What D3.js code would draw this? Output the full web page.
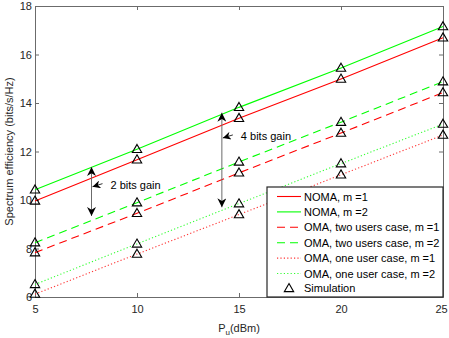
<!DOCTYPE html>
<html>
<head>
<meta charset="utf-8">
<script src="https://cdn.jsdelivr.net/npm/d3@7"></script>
<style>
    html, body { margin: 0; padding: 0; background: #fff; }
    svg { display: block; font-family: "Liberation Sans", Arial, sans-serif; }
    .tick-label { font-size: 11px; fill: #262626; }
    .axis-title { font-size: 11px; fill: #262626; }
    .legend-text { font-size: 11px; fill: #000; }
    .gain-text { font-size: 11px; fill: #000; }
</style>
</head>
<body>
<div id="chart"></div>
<script>
const powerLevels = [5, 10, 15, 20, 25];
const xTicks = [5, 10, 15, 20, 25];
const yTicks = [6, 8, 10, 12, 14, 16, 18];

const nomaM1 = [9.96, 11.66, 13.37, 14.99, 16.69];
const nomaM2 = [10.42, 12.09, 13.82, 15.44, 17.15];
const omaTwoM1 = [7.83, 9.45, 11.12, 12.76, 14.43];
const omaTwoM2 = [8.24, 9.89, 11.57, 13.21, 14.88];
const omaOneM1 = [6.12, 7.77, 9.40, 11.04, 12.68];
const omaOneM2 = [6.52, 8.19, 9.85, 11.50, 13.13];

const seriesLabels = [
    'NOMA, m =1',
    'NOMA, m =2',
    'OMA, two users case, m =1',
    'OMA, two users case, m =2',
    'OMA, one user case, m =1',
    'OMA, one user case, m =2'
];
const seriesValues = [nomaM1, nomaM2, omaTwoM1, omaTwoM2, omaOneM1, omaOneM2];
const seriesColors = ['#ff0000', '#00ff00', '#ff0000', '#00ff00', '#ff3333', '#33ff33'];
const seriesDashes = [null, null, '8,5', '8,5', '1.2,2.2', '1.2,2.2'];

// double arrows between two curves, with a pointer label
const gainArrows = [
    { x: 7.77, top: 11.36, bottom: 9.34, label: '2 bits gain', labelY: 10.55 },
    { x: 14.16, top: 13.6, bottom: 9.70, label: '4 bits gain', labelY: 12.56 }
];

const width = 449;
const height = 338;
const margin = { top: 6, right: 6, bottom: 41, left: 35 };

const svg = d3.select('#chart').append('svg')
    .attr('width', width)
    .attr('height', height);

const xScale = d3.scaleLinear()
    .domain([5, 25])
    .range([margin.left, width - margin.right]);

const yScale = d3.scaleLinear()
    .domain([6, 18])
    .range([height - margin.bottom, margin.top]);

const axisColor = '#6b6b6b';
const plotLeft = xScale.range()[0];
const plotRight = xScale.range()[1];
const plotTop = yScale.range()[1];
const plotBottom = yScale.range()[0];

// axes box with inner ticks on all four sides
svg.append('g')
    .attr('transform', `translate(0,${plotBottom})`)
    .call(d3.axisBottom(xScale).tickValues(xTicks).tickSizeInner(-4).tickSizeOuter(0).tickPadding(8))
    .call((group) => group.selectAll('text').attr('class', 'tick-label').attr('fill', null))
    .call((group) => group.selectAll('text').filter((value) => value === 25).attr('dx', -2));

svg.append('g')
    .attr('transform', `translate(0,${plotTop})`)
    .call(d3.axisTop(xScale).tickValues(xTicks).tickSizeInner(-4).tickSizeOuter(0).tickFormat(''));

svg.append('g')
    .attr('transform', `translate(${plotLeft},0)`)
    .call(d3.axisLeft(yScale).tickValues(yTicks).tickSizeInner(-4).tickSizeOuter(0).tickPadding(3))
    .call((group) => group.selectAll('text').attr('class', 'tick-label').attr('fill', null));

svg.append('g')
    .attr('transform', `translate(${plotRight},0)`)
    .call(d3.axisRight(yScale).tickValues(yTicks).tickSizeInner(-4).tickSizeOuter(0).tickFormat(''));

svg.selectAll('g').attr('font-family', null).attr('font-size', null);

svg.selectAll('.domain, .tick line')
    .attr('stroke', axisColor)
    .attr('stroke-width', 1);

// axis titles
const xTitle = svg.append('text')
    .attr('class', 'axis-title')
    .attr('x', (plotLeft + plotRight) / 2)
    .attr('y', 332)
    .attr('text-anchor', 'middle');
xTitle.append('tspan').text('P');
xTitle.append('tspan').attr('dy', 3).attr('font-size', '8px').text('u');
xTitle.append('tspan').attr('dy', -3).text('(dBm)');

svg.append('text')
    .attr('class', 'axis-title')
    .attr('transform', `translate(13,${(plotTop + plotBottom) / 2}) rotate(-90)`)
    .attr('text-anchor', 'middle')
    .text('Spectrum efficiency (bits/s/Hz)');

// series lines
const line = d3.line()
    .x((datum, index) => xScale(powerLevels[index]))
    .y((datum) => yScale(datum));

svg.selectAll('.series-line')
    .data(seriesValues)
    .enter()
    .append('path')
    .attr('class', 'series-line')
    .attr('d', (values) => line(values))
    .attr('fill', 'none')
    .attr('stroke', (values, index) => seriesColors[index])
    .attr('stroke-width', 1.1)
    .attr('stroke-dasharray', (values, index) => seriesDashes[index]);

// simulation markers
const triangle = d3.symbol().type(d3.symbolTriangle).size(38);
const markers = seriesValues.flatMap((values) => values.map((value, index) => ({ x: powerLevels[index], y: value })));

svg.selectAll('.sim-marker')
    .data(markers)
    .enter()
    .append('path')
    .attr('class', 'sim-marker')
    .attr('d', triangle)
    .attr('transform', (datum) => `translate(${xScale(datum.x)},${yScale(datum.y) + 0.5})`)
    .attr('fill', 'none')
    .attr('stroke', '#000')
    .attr('stroke-width', 1.1);

// gain annotations
const defs = svg.append('defs');
defs.append('marker')
    .attr('id', 'head')
    .attr('viewBox', '0 0 10 10')
    .attr('refX', 10)
    .attr('refY', 5)
    .attr('markerWidth', 10)
    .attr('markerHeight', 9)
    .attr('markerUnits', 'userSpaceOnUse')
    .attr('orient', 'auto-start-reverse')
    .append('path')
    .attr('d', 'M0,0 L10,5 L0,10 L3,5 Z')
    .attr('fill', '#000');

defs.append('marker')
    .attr('id', 'small-head')
    .attr('viewBox', '0 0 10 10')
    .attr('refX', 10)
    .attr('refY', 5)
    .attr('markerWidth', 9)
    .attr('markerHeight', 8)
    .attr('markerUnits', 'userSpaceOnUse')
    .attr('orient', 'auto')
    .append('path')
    .attr('d', 'M0,0 L10,5 L0,10 L3,5 Z')
    .attr('fill', '#000');

const gainGroups = svg.selectAll('.gain')
    .data(gainArrows)
    .enter()
    .append('g')
    .attr('class', 'gain');

gainGroups.append('line')
    .attr('x1', (datum) => xScale(datum.x))
    .attr('x2', (datum) => xScale(datum.x))
    .attr('y1', (datum) => yScale(datum.top))
    .attr('y2', (datum) => yScale(datum.bottom))
    .attr('stroke', '#6b6b6b')
    .attr('stroke-width', 1)
    .attr('marker-start', 'url(#head)')
    .attr('marker-end', 'url(#head)');

gainGroups.append('line')
    .attr('x1', (datum) => xScale(datum.x) + 11)
    .attr('y1', (datum) => yScale(datum.labelY) - 3)
    .attr('x2', (datum) => xScale(datum.x) + 1)
    .attr('y2', (datum) => yScale(datum.labelY))
    .attr('stroke', '#000')
    .attr('stroke-width', 0.8)
    .attr('marker-end', 'url(#small-head)');

gainGroups.append('text')
    .attr('class', 'gain-text')
    .attr('x', (datum) => xScale(datum.x) + 19)
    .attr('y', (datum) => yScale(datum.labelY) + 2)
    .text((datum) => datum.label);

// legend
const legendX = 267;
const legendY = 187;
const legendWidth = plotRight - legendX;
const legendHeight = plotBottom - legendY;
const legendRowGap = 15.4;

const legend = svg.append('g')
    .attr('transform', `translate(${legendX},${legendY})`);

legend.append('rect')
    .attr('width', legendWidth)
    .attr('height', legendHeight)
    .attr('fill', '#fff')
    .attr('stroke', '#262626')
    .attr('stroke-width', 1.2);

const legendRows = legend.selectAll('.legend-row')
    .data(seriesLabels)
    .enter()
    .append('g')
    .attr('class', 'legend-row')
    .attr('transform', (label, index) => `translate(0,${9.5 + index * legendRowGap})`);

legendRows.append('line')
    .attr('x1', 10)
    .attr('x2', 34)
    .attr('stroke', (label, index) => seriesColors[index])
    .attr('stroke-width', 1.1)
    .attr('stroke-dasharray', (label, index) => seriesDashes[index]);

legendRows.append('text')
    .attr('class', 'legend-text')
    .attr('x', 37)
    .attr('y', 4)
    .text((label) => label);

const simulationRow = legend.append('g')
    .attr('transform', `translate(0,${9.5 + seriesLabels.length * legendRowGap - 0.5})`);

simulationRow.append('path')
    .attr('d', triangle)
    .attr('transform', 'translate(22,0.5)')
    .attr('fill', 'none')
    .attr('stroke', '#000')
    .attr('stroke-width', 1.1);

simulationRow.append('text')
    .attr('class', 'legend-text')
    .attr('x', 37)
    .attr('y', 4)
    .text('Simulation');
</script>
</body>
</html>
